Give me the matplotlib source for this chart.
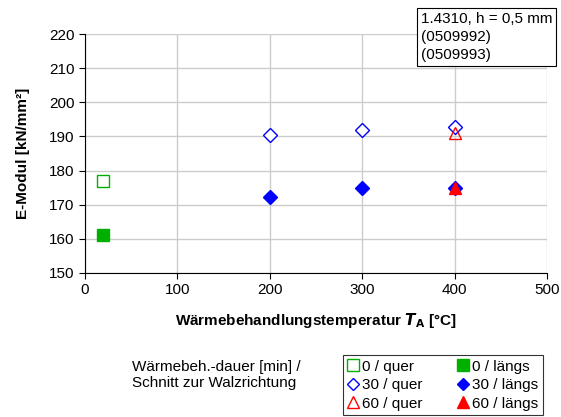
import matplotlib
matplotlib.use('Agg')
import matplotlib.pyplot as plt
from matplotlib.lines import Line2D

plt.rcParams['font.family'] = ['Liberation Sans', 'DejaVu Sans']

# Waermebehandlungstemperatur [C] und E-Modul [kN/mm2] je Serie
t_0 = [20]
e_0_quer = [177]
e_0_laengs = [161]
t_30 = [200, 300, 400]
e_30_quer = [190.5, 191.8, 192.8]
e_30_laengs = [172.3, 175.0, 175.0]
t_60 = [400]
e_60_quer = [191.0]
e_60_laengs = [175.0]

labels = ['0 / quer', '30 / quer', '60 / quer', '0 / längs', '30 / längs', '60 / längs']

green = '#00b000'
blue = '#0000ff'
red = '#ff0000'
fs = 11

fig = plt.figure(figsize=(5.61, 4.17), dpi=100)
ax = fig.add_axes([85/561, 1-273/417, 462/561, 239/417])

ax.plot(t_0, e_0_quer, 's', ms=9, mfc='white', mec=green, mew=1.0, zorder=3)
ax.plot(t_0, e_0_laengs, 's', ms=9, mfc=green, mec=green, zorder=3)
ax.plot(t_30, e_30_quer, 'D', ms=7, mfc='white', mec=blue, mew=1.0, zorder=3)
ax.plot(t_30, e_30_laengs, 'D', ms=7, mfc=blue, mec=blue, zorder=3)
ax.plot(t_60, e_60_quer, '^', ms=9, mfc='none', mec=red, mew=1.0, zorder=3)
ax.plot(t_60, e_60_laengs, '^', ms=9, mfc=red, mec=red, zorder=3)

ax.set_xlim(0, 500)
ax.set_ylim(150, 220)
ax.set_xticks(range(0, 501, 100))
ax.set_yticks(range(150, 221, 10))
ax.grid(True, color='#cccccc', lw=1)
ax.set_axisbelow(True)
for s in ['top', 'right']:
    ax.spines[s].set_visible(False)
for s in ['left', 'bottom']:
    ax.spines[s].set_color('black')
ax.tick_params(labelsize=fs, direction='out', length=4)

ax.set_ylabel('E-Modul [kN/mm²]', fontsize=fs, fontweight='bold', labelpad=14)
ax.set_xlabel('Wärmebehandlungstemperatur $\\mathbfit{T}_{\\mathbf{A}}$ [°C]',
              fontsize=fs, fontweight='bold', labelpad=10)

fig.text(421/561, 1-12/417, '1.4310, h = 0,5 mm\n(0509992)\n(0509993)',
         fontsize=fs, va='top', ha='left', linespacing=1.35,
         bbox=dict(facecolor='white', edgecolor='black', lw=0.8,
                   boxstyle='square,pad=0.25'))

fig.text(132/561, 1-360/417, 'Wärmebeh.-dauer [min] /\nSchnitt zur Walzrichtung',
         fontsize=fs, va='top', ha='left', linespacing=1.2)

handles = [
    Line2D([], [], ls='', marker='s', ms=8, mfc='white', mec=green),
    Line2D([], [], ls='', marker='D', ms=6, mfc='white', mec=blue),
    Line2D([], [], ls='', marker='^', ms=8, mfc='none', mec=red),
    Line2D([], [], ls='', marker='s', ms=8, mfc=green, mec=green),
    Line2D([], [], ls='', marker='D', ms=6, mfc=blue, mec=blue),
    Line2D([], [], ls='', marker='^', ms=8, mfc=red, mec=red),
]
leg = fig.legend(handles, labels, ncol=2, loc='lower left',
                 bbox_to_anchor=(335/561, -6/417), fontsize=fs, frameon=True,
                 fancybox=False, edgecolor='black', handlelength=0.8,
                 handletextpad=0.2, columnspacing=2.2, labelspacing=0.3,
                 borderpad=0.3)
leg.get_frame().set_linewidth(0.8)

fig.savefig('out.png', dpi=100)
